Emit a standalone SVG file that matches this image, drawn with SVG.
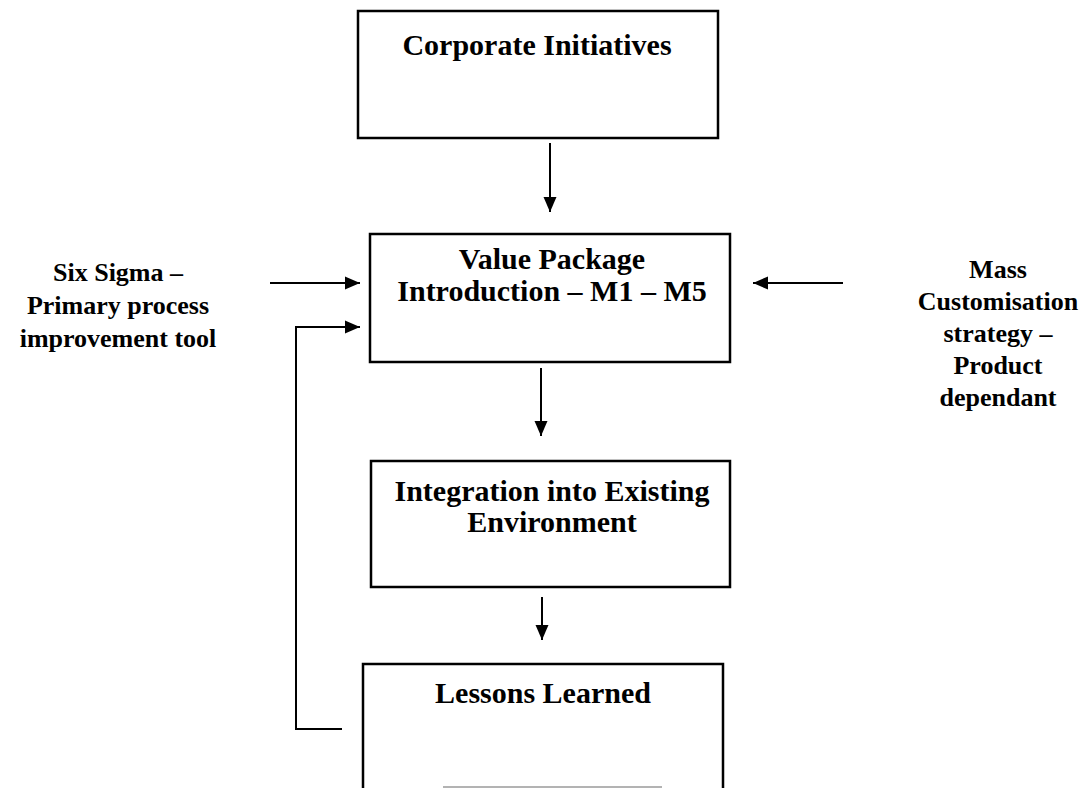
<svg xmlns="http://www.w3.org/2000/svg" width="1086" height="788" viewBox="0 0 1086 788">
  <style>
    .box { fill: #ffffff; stroke: #000000; stroke-width: 2.5; }
    .conn { fill: none; stroke: #000000; stroke-width: 2; }
    .t { font-family: "Liberation Serif", "Times New Roman", serif; font-weight: bold; fill: #000000; text-anchor: middle; }
    .node { font-size: 30px; }
    .side { font-size: 26px; }
  </style>
  <defs>
    <marker id="arrow" markerUnits="userSpaceOnUse" markerWidth="16" markerHeight="14" refX="15" refY="7" orient="auto">
      <path d="M0,0.5 L15,7 L0,13.5 z" fill="#000000"/>
    </marker>
  </defs>
  <rect width="1086" height="788" fill="#ffffff"/>

  <!-- connectors -->
  <g id="connectors">
    <line class="conn" x1="550" y1="143" x2="550" y2="212" marker-end="url(#arrow)"/>
    <line class="conn" x1="270" y1="283" x2="360" y2="283" marker-end="url(#arrow)"/>
    <path class="conn" d="M342,729 H296 V327 H360" marker-end="url(#arrow)"/>
    <line class="conn" x1="843" y1="283" x2="753" y2="283" marker-end="url(#arrow)"/>
    <line class="conn" x1="541" y1="368" x2="541" y2="436" marker-end="url(#arrow)"/>
    <line class="conn" x1="542" y1="597" x2="542" y2="640" marker-end="url(#arrow)"/>
  </g>

  <!-- process boxes -->
  <g id="corporate-initiatives">
    <rect class="box" x="358" y="11" width="360" height="127"/>
    <text class="t node" x="537" y="55">Corporate Initiatives</text>
  </g>

  <g id="value-package">
    <rect class="box" x="370" y="234" width="360" height="128"/>
    <text class="t node" x="552" y="269">Value Package</text>
    <text class="t node" x="552" y="301">Introduction – M1 – M5</text>
  </g>

  <g id="integration">
    <rect class="box" x="371" y="461" width="359" height="126"/>
    <text class="t node" x="552" y="501">Integration into Existing</text>
    <text class="t node" x="552" y="532">Environment</text>
  </g>

  <g id="lessons-learned">
    <path class="box" d="M363,790 V664 H723 V790"/>
    <line x1="443" y1="787" x2="662" y2="787" stroke="#9a9a9a" stroke-width="1.5"/>
    <text class="t node" x="543" y="703">Lessons Learned</text>
  </g>

  <!-- side inputs -->
  <g id="six-sigma">
    <text class="t side" x="118" y="281">Six Sigma –</text>
    <text class="t side" x="118" y="314">Primary process</text>
    <text class="t side" x="118" y="347">improvement tool</text>
  </g>

  <g id="mass-customisation">
    <text class="t side" x="998" y="278">Mass</text>
    <text class="t side" x="998" y="310">Customisation</text>
    <text class="t side" x="998" y="342">strategy –</text>
    <text class="t side" x="998" y="374">Product</text>
    <text class="t side" x="998" y="406">dependant</text>
  </g>
</svg>
